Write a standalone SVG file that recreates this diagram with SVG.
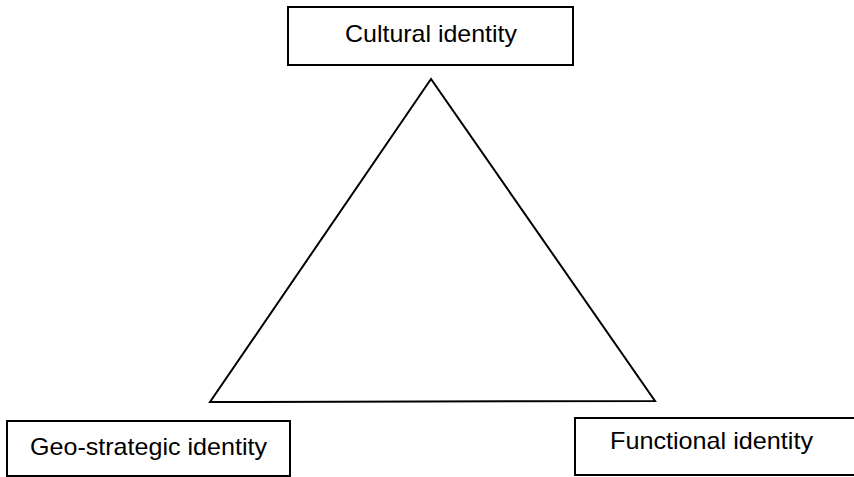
<svg xmlns="http://www.w3.org/2000/svg" width="854" height="477" viewBox="0 0 854 477">
<style>
.box{fill:#fff;stroke:#000;stroke-width:2}
.lbl{font-family:"Liberation Sans",Arial,sans-serif;font-size:24px;fill:#000}
.edge{fill:none;stroke:#000;stroke-width:2;stroke-linejoin:miter}
</style>
<rect width="854" height="477" fill="#fff"/>
<g id="connectors">
<polygon class="edge" points="431,79 210,402 655,401"/>
</g>
<g id="cultural">
<rect class="box" x="288" y="7" width="285" height="58"/>
<text class="lbl" x="431" y="42" text-anchor="middle" textLength="172" lengthAdjust="spacingAndGlyphs">Cultural identity</text>
</g>
<g id="geostrategic">
<rect class="box" x="7" y="421" width="283" height="55"/>
<text class="lbl" x="30" y="455" textLength="237" lengthAdjust="spacingAndGlyphs">Geo-strategic identity</text>
</g>
<g id="functional">
<rect class="box" x="575" y="418" width="290" height="57"/>
<text class="lbl" x="610" y="449" textLength="203" lengthAdjust="spacingAndGlyphs">Functional identity</text>
</g>
</svg>
